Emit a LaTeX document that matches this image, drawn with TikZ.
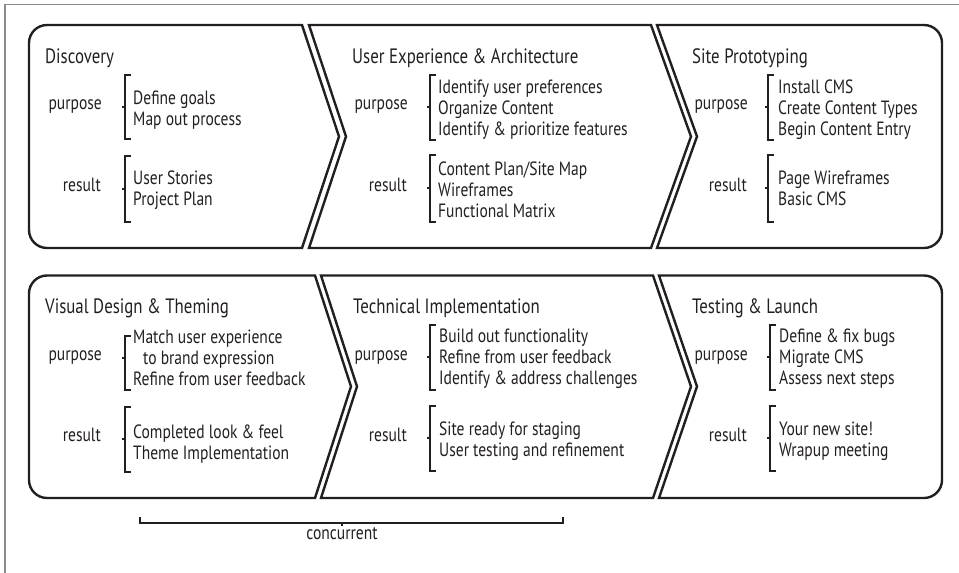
\documentclass[tikz,border=0pt]{standalone}
\usepackage{fontspec}
\usepackage{tikz}
\newfontfamily\diagfont[FakeStretch=0.81]{PT Sans}
\newcommand\ttlfont{\diagfont\fontsize{20.8}{24}\selectfont}
\newcommand\txtfont{\diagfont\fontsize{19.2}{21}\selectfont}
\definecolor{ink}{HTML}{231F20}
\definecolor{rule}{HTML}{8A8A8A}

\begin{document}
\begin{tikzpicture}[x=1pt, y=1pt,
		stage/.style={draw=ink, line width=2.4pt, line join=miter},
		brk/.style={draw=ink, line width=1.8pt},
		ttl/.style={font=\ttlfont, text=ink, anchor=base west, inner sep=0pt},
		lbl/.style={font=\txtfont, text=ink, anchor=base east, inner sep=0pt},
		itm/.style={font=\txtfont, text=ink, anchor=base west, inner sep=0pt}]
		\useasboundingbox (0,0) rectangle (959,-573);
		\draw[rule, line width=1.2pt] (5,-573) -- (5,-4.5) -- (959,-4.5);

		% first row of stages
		\draw[stage] (302,-25) -- (339,-136.5) -- (302,-248) -- (47,-248)
			arc[start angle=270, end angle=180, radius=18pt] -- (29,-43)
			arc[start angle=180, end angle=90, radius=18pt] -- cycle;
		\draw[stage] (309,-25) -- (651,-25) -- (691,-136.5) -- (651,-248) -- (309,-248) -- (346,-136.5) -- cycle;
		\draw[stage] (657,-25) -- (924,-25)
			arc[start angle=90, end angle=0, radius=18pt] -- (942,-230)
			arc[start angle=0, end angle=-90, radius=18pt] -- (657,-248) -- (697,-136.5) -- cycle;

		% second row of stages
		\draw[stage] (315,-275.5) -- (351,-386.5) -- (315,-498) -- (47,-498)
			arc[start angle=270, end angle=180, radius=18pt] -- (29,-293.5)
			arc[start angle=180, end angle=90, radius=18pt] -- cycle;
		\draw[stage] (321,-275.5) -- (653,-275.5) -- (691,-386.5) -- (653,-498) -- (321,-498) -- (357,-386.5) -- cycle;
		\draw[stage] (659,-275.5) -- (924,-275.5)
			arc[start angle=90, end angle=0, radius=18pt] -- (942,-480)
			arc[start angle=0, end angle=-90, radius=18pt] -- (659,-498) -- (697,-386.5) -- cycle;

		% Discovery
		\node[ttl] (disc)    at ( 45, -63) {Discovery};
		\node[lbl] (disc-p)  at (102,-109) {purpose};
		\node[itm] (disc-p1) at (133,-104) {Define goals};
		\node[itm] (disc-p2) at (133,-125) {Map out process};
		\node[lbl] (disc-r)  at (101,-191) {result};
		\node[itm] (disc-r1) at (133,-184) {User Stories};
		\node[itm] (disc-r2) at (133,-205) {Project Plan};
		\draw[brk] (131,-75) -- (125,-75) -- (125,-139) -- (131,-139) (125,-107) -- (122,-107);
		\draw[brk] (131,-156) -- (125,-156) -- (125,-222) -- (131,-222) (125,-189) -- (122,-189);

		% User Experience & Architecture
		\node[ttl] (uxa)    at (352, -63) {User Experience \& Architecture};
		\node[lbl] (uxa-p)  at (408,-109) {purpose};
		\node[itm] (uxa-p1) at (438, -93) {Identify user preferences};
		\node[itm] (uxa-p2) at (438,-114) {Organize Content};
		\node[itm] (uxa-p3) at (438,-135) {Identify \& prioritize features};
		\node[lbl] (uxa-r)  at (407,-191) {result};
		\node[itm] (uxa-r1) at (438,-175) {Content Plan/Site Map};
		\node[itm] (uxa-r2) at (438,-196) {Wireframes};
		\node[itm] (uxa-r3) at (438,-217) {Functional Matrix};
		\draw[brk] (436,-75) -- (430,-75) -- (430,-140) -- (436,-140) (430,-107) -- (427,-107);
		\draw[brk] (436,-155) -- (430,-155) -- (430,-222) -- (436,-222) (430,-188) -- (427,-188);

		% Site Prototyping
		\node[ttl] (proto)    at (692, -63) {Site Prototyping};
		\node[lbl] (proto-p)  at (748,-109) {purpose};
		\node[itm] (proto-p1) at (778, -93) {Install CMS};
		\node[itm] (proto-p2) at (778,-114) {Create Content Types};
		\node[itm] (proto-p3) at (778,-135) {Begin Content Entry};
		\node[lbl] (proto-r)  at (747,-191) {result};
		\node[itm] (proto-r1) at (778,-184) {Page Wireframes};
		\node[itm] (proto-r2) at (778,-205) {Basic CMS};
		\draw[brk] (774,-75) -- (768,-75) -- (768,-140) -- (774,-140) (768,-107) -- (765,-107);
		\draw[brk] (774,-155) -- (768,-155) -- (768,-222) -- (774,-222) (768,-188) -- (765,-188);

		% Visual Design & Theming
		\node[ttl] (theme)    at ( 45,-313) {Visual Design \& Theming};
		\node[lbl] (theme-p)  at (102,-360) {purpose};
		\node[itm] (theme-p1) at (133,-343) {Match user experience};
		\node[itm] (theme-p2) at (143,-364) {to brand expression};
		\node[itm] (theme-p3) at (133,-385) {Refine from user feedback};
		\node[lbl] (theme-r)  at (101,-441) {result};
		\node[itm] (theme-r1) at (133,-438) {Completed look \& feel};
		\node[itm] (theme-r2) at (133,-459) {Theme Implementation};
		\draw[brk] (131,-336) -- (125,-336) -- (125,-390) -- (131,-390) (125,-358) -- (122,-358);
		\draw[brk] (131,-407) -- (125,-407) -- (125,-472) -- (131,-472) (125,-439) -- (122,-439);

		% Technical Implementation
		\node[ttl] (tech)    at (353,-313) {Technical Implementation};
		\node[lbl] (tech-p)  at (408,-360) {purpose};
		\node[itm] (tech-p1) at (439,-342) {Build out functionality};
		\node[itm] (tech-p2) at (439,-363) {Refine from user feedback};
		\node[itm] (tech-p3) at (439,-384) {Identify \& address challenges};
		\node[lbl] (tech-r)  at (407,-441) {result};
		\node[itm] (tech-r1) at (439,-435) {Site ready for staging};
		\node[itm] (tech-r2) at (439,-456) {User testing and refinement};
		\draw[brk] (436,-325) -- (430,-325) -- (430,-390) -- (436,-390) (430,-357) -- (427,-357);
		\draw[brk] (436,-406) -- (430,-406) -- (430,-471) -- (436,-471) (430,-438) -- (427,-438);

		% Testing & Launch
		\node[ttl] (launch)    at (692,-313) {Testing \& Launch};
		\node[lbl] (launch-p)  at (748,-360) {purpose};
		\node[itm] (launch-p1) at (779,-342) {Define \& fix bugs};
		\node[itm] (launch-p2) at (779,-363) {Migrate CMS};
		\node[itm] (launch-p3) at (779,-384) {Assess next steps};
		\node[lbl] (launch-r)  at (747,-441) {result};
		\node[itm] (launch-r1) at (779,-435) {Your new site!};
		\node[itm] (launch-r2) at (779,-456) {Wrapup meeting};
		\draw[brk] (776,-325) -- (770,-325) -- (770,-390) -- (776,-390) (770,-357) -- (767,-357);
		\draw[brk] (776,-406) -- (770,-406) -- (770,-471) -- (776,-471) (770,-438) -- (767,-438);

		% stages that run side by side
		\draw[brk] (140,-517) -- (140,-523) -- (563,-523) -- (563,-517) (342,-523) -- (342,-526);
		\node[font=\txtfont, text=ink, anchor=base, inner sep=0pt] (conc) at (342,-539) {concurrent};
	\end{tikzpicture}
\end{document}
